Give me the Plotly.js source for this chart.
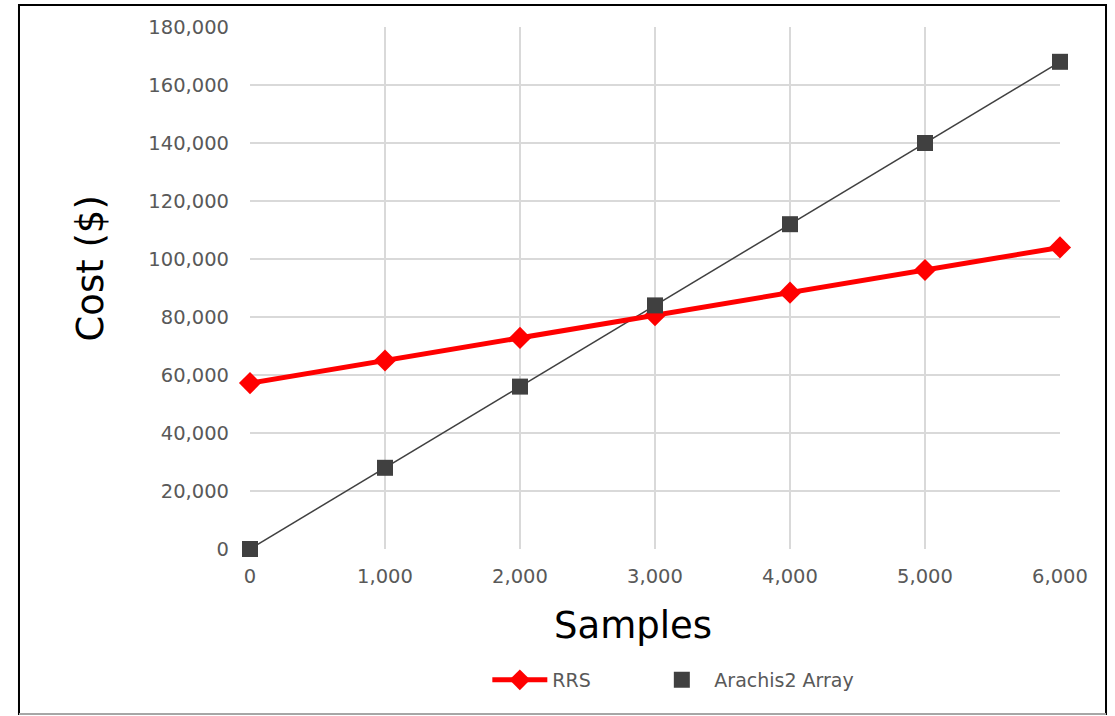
<!DOCTYPE html>
<html>
<head>
<meta charset="utf-8">
<script src="https://cdn.plot.ly/plotly-3.0.1.min.js"></script>
<style>
  html, body { margin: 0; padding: 0; background: #ffffff; }
  #chart { width: 1115px; height: 716px; }
</style>
</head>
<body>
<div id="chart"></div>
<script>
// Sample counts along the x axis
const samples = [0, 1000, 2000, 3000, 4000, 5000, 6000];
// Cost of each approach, in dollars
const rrsCost = [57200, 65000, 72800, 80600, 88400, 96200, 104000];
const arachisCost = [0, 28000, 56000, 84000, 112000, 140000, 168000];

const seriesNames = ['RRS', 'Arachis2 Array'];
const xTitle = 'Samples';
const yTitle = 'Cost ($)';

const FONT = '"DejaVu Sans", sans-serif';
const tickColor = '#595959';
const gridColor = '#d9d9d9';

const traces = [
  {
    x: samples, y: arachisCost, type: 'scatter', mode: 'lines',
    line: { color: '#404040', width: 1.5 },
    showlegend: false, hoverinfo: 'skip', cliponaxis: false
  },
  {
    x: samples, y: rrsCost, type: 'scatter', mode: 'lines+markers',
    name: seriesNames[0], cliponaxis: false, legend: 'legend',
    line: { color: '#ff0000', width: 5 },
    marker: { symbol: 'diamond', size: 17, color: '#ff0000' }
  },
  {
    x: samples, y: arachisCost, type: 'scatter', mode: 'markers',
    name: seriesNames[1], cliponaxis: false, legend: 'legend2',
    marker: { symbol: 'square', size: 16, color: '#404040' }
  }
];

const legendBase = {
  orientation: 'h', xanchor: 'left', y: -0.251, yanchor: 'middle',
  font: { size: 19, color: tickColor }, itemwidth: 55,
  bgcolor: 'rgba(0,0,0,0)'
};

const layout = {
  width: 1115, height: 716,
  margin: { l: 250, r: 55, t: 27, b: 167 },
  paper_bgcolor: '#ffffff', plot_bgcolor: '#ffffff',
  font: { family: FONT, color: tickColor },
  xaxis: {
    range: [0, 6000], tickvals: samples, tickformat: ',d',
    showgrid: true, gridcolor: gridColor, gridwidth: 1.5,
    zeroline: false, showline: false, ticks: '',
    tickfont: { size: 19.5, color: tickColor }, ticklabelstandoff: 13
  },
  yaxis: {
    range: [0, 180000], dtick: 20000, tickformat: ',d',
    showgrid: true, gridcolor: gridColor, gridwidth: 1.5,
    zeroline: false, showline: false, ticks: '',
    tickfont: { size: 19.5, color: tickColor }, ticklabelstandoff: 20
  },
  legend: Object.assign({}, legendBase, { x: 0.293 }),
  legend2: Object.assign({}, legendBase, { x: 0.493 }),
  // axis titles placed as annotations so they can sit off-centre
  annotations: [
    { text: xTitle, xref: 'paper', yref: 'paper', x: 0.473, y: -0.146,
      xanchor: 'center', yanchor: 'middle', showarrow: false,
      font: { size: 37, color: '#000000', family: FONT } },
    { text: yTitle, xref: 'paper', yref: 'paper', x: -0.197, y: 0.538,
      xanchor: 'center', yanchor: 'middle', showarrow: false, textangle: -90,
      font: { size: 37, color: '#000000', family: FONT } }
  ],
  shapes: [
    { type: 'rect', xref: 'paper', yref: 'paper',
      x0: -0.2852, x1: 1.0568, y0: -0.3161, y1: 1.0421,
      line: { color: '#000000', width: 2 }, fillcolor: 'rgba(0,0,0,0)', layer: 'below' },
    { type: 'line', xref: 'paper', yref: 'paper',
      x0: -0.2852, x1: 1.0568, y0: -0.3161, y1: -0.3161,
      line: { color: '#a6a6a6', width: 2 }, layer: 'below' }
  ]
};

Plotly.newPlot('chart', traces, layout, { displayModeBar: false, staticPlot: true });
</script>
</body>
</html>
